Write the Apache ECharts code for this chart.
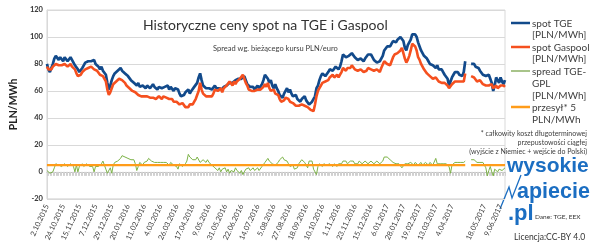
<!DOCTYPE html>
<html><head><meta charset="utf-8">
<script src="https://cdn.jsdelivr.net/npm/echarts@6/dist/echarts.min.js"></script>
<style>html,body{margin:0;padding:0;background:#fff}#c{width:597px;height:244px}</style>
</head><body><div id="c"></div>
<script>
// categories: every 2nd day from 2.10.2015 to 15.06.2017
const categories = [];
(function(){
  const d0 = Date.UTC(2015, 9, 2);
  for (let k = 0; k < 312; k++) {
    const d = new Date(d0 + k * 2 * 86400000);
    categories.push(d.getUTCDate() + '.' + String(d.getUTCMonth() + 1).padStart(2, '0') + '.' + d.getUTCFullYear());
  }
})();

const tickLabels = ['2.10.2015','24.10.2015','15.11.2015','7.12.2015','29.12.2015','20.01.2016','11.02.2016','4.03.2016','26.03.2016','17.04.2016','9.05.2016','31.05.2016','22.06.2016','14.07.2016','5.08.2016','27.08.2016','18.09.2016','10.10.2016','1.11.2016','23.11.2016','15.12.2016','6.01.2017','28.01.2017','19.02.2017','13.03.2017','4.04.2017','18.05.2017','9.06.2017'];

const spotTGE = [
80,76,74,77,80,84,86,85,83,85,
84,82,85,84,82,83,85,83,81,79,
78,76,74,75,77,79,81,80,82,83,
82,81,83,80,79,78,76,78,75,74,
72,66,61,64,68,71,73,74,75,76,
77,75,76,73,72,71,70,68,67,66,
65,64,66,63,62,64,63,62,64,63,
62,63,65,63,62,61,63,64,62,62,
63,62,64,61,63,62,60,62,63,61,
58,56,55,57,59,60,61,58,60,61,
63,64,66,70,73,68,64,63,62,63,
62,63,61,62,64,62,61,62,62,61,
63,64,64,65,66,67,66,67,68,68,
69,68,69,70,71,68,65,64,63,62,
63,61,62,64,62,63,65,68,72,71,
69,66,68,64,62,65,62,60,57,56,
55,58,60,62,59,61,58,56,55,57,
54,53,52,54,55,56,53,52,50,51,
52,51,56,62,64,68,71,73,72,71,
72,74,76,77,75,76,78,77,76,78,
82,87,86,85,84,86,85,88,87,85,
84,83,82,84,83,82,84,85,87,88,
87,85,83,82,81,80,82,83,86,90,
91,93,94,93,95,97,98,96,98,99,
100,101,97,92,90,94,95,98,102,103,
102,100,96,93,90,88,86,85,84,82,
80,81,79,78,77,79,76,75,76,74,
72,71,69,64,67,70,72,74,73,74,
72,73,71,74,82,null,null,null,80,79,
80,78,79,77,75,74,72,73,71,70,
72,69,66,60,64,70,68,66,70,67,
65,68];

const spotGaspool = [
78,76,75,76,78,79,80,80,79,80,
79,78,80,79,78,79,80,78,77,76,
73,71,70,72,74,75,76,75,77,77,
78,77,76,75,75,74,72,73,71,70,
67,61,57,59,62,65,66,67,68,69,
69,68,67,66,64,63,62,61,60,59,
59,58,57,58,56,57,56,55,56,55,
55,54,55,56,54,55,56,55,54,56,
56,55,56,54,53,54,52,53,52,51,
50,49,51,50,48,49,48,50,49,50,
52,54,55,60,66,61,58,57,56,57,
56,57,56,58,61,60,60,59,62,59,
62,61,64,63,67,66,64,67,65,67,
67,69,68,72,71,66,64,61,62,60,
60,60,60,61,61,61,61,63,65,63,
66,62,60,59,61,58,59,57,54,52,
51,53,55,56,54,52,53,51,50,49,
50,49,48,50,51,49,50,48,47,46,
47,45,50,56,60,62,64,66,65,67,
66,68,70,71,72,70,71,72,70,72,
74,77,76,75,77,78,77,79,78,76,
76,75,74,76,75,74,73,75,77,78,
76,77,75,74,76,75,74,77,78,82,
82,80,81,79,82,85,87,86,88,89,
90,92,88,84,81,83,86,90,95,96,
93,90,85,83,80,78,76,75,73,72,
71,70,69,68,70,69,67,68,66,67,
66,65,64,62,63,65,66,67,68,67,
68,67,66,67,73,null,null,null,71,70,
70,69,67,66,68,67,65,66,64,65,
64,63,65,62,63,64,62,63,64,63,
64,63];

const spreadTGEGPL = [
1,0,-1,-2,0,3,6,7,5,6,
4,5,6,5,4,5,6,5,4,0,
5,0,4,5,6,4,5,6,5,4,
5,4,0,4,5,4,5,6,8,7,
2,-1,0,3,-1,5,7,6,8,9,
10,12,13,11,12,10,11,9,10,9,
6,1,4,7,6,5,7,6,8,10,
9,8,9,7,8,7,8,7,8,7,
6,7,6,5,7,6,5,6,4,2,
6,5,4,5,6,8,13,11,10,9,
10,9,11,10,7,8,9,8,7,9,
7,6,5,4,3,2,1,3,0,2,
1,3,0,2,-1,1,2,0,3,1,
2,-1,1,-2,0,2,1,3,1,2,
3,1,2,3,1,2,4,5,7,8,
10,8,7,6,7,5,6,7,9,10,
11,9,10,8,6,4,3,5,2,1,
3,6,7,9,8,7,5,3,8,7,
8,2,0,-2,4,6,5,4,6,5,
5,4,6,5,4,6,5,4,6,7,
6,8,7,8,6,7,8,7,8,6,
7,6,8,7,6,7,8,7,6,7,
8,7,6,7,8,7,6,7,8,11,
12,11,12,9,8,7,8,6,7,6,
5,3,4,6,7,6,5,7,6,5,
7,6,5,6,7,5,6,7,6,5,
7,6,5,6,10,6,5,6,5,6,
5,6,5,4,-1,5,6,7,6,7,
6,7,6,7,8,null,null,null,9,8,
9,8,7,8,7,8,7,5,3,-3,
1,4,0,-3,2,3,0,2,2,1,
2,3];

const przesyl = [['2.10.2015',5],['22.04.2017',5],['24.04.2017',null],['30.04.2017',5],['15.06.2017',5]];

const yTicks = {min: -20, max: 120, interval: 20};

const FONT = 'Lato';
const C_TGE = '#124a8b', C_GPL = '#f5501f', C_SPR = '#7cb247', C_PRZ = '#ff9c1a';
const TXT = '#404040';

const chart = echarts.init(document.getElementById('c'), null, {renderer: 'canvas'});
chart.setOption({
  animation: false,
  backgroundColor: '#fff',
  title: [
    {text: 'Historyczne ceny spot na TGE i Gaspool', left: 143, top: 18, padding: 0,
     textStyle: {fontFamily: FONT, fontSize: 14, fontWeight: 'normal', color: '#333'}},
    {text: 'Spread wg. bieżącego kursu PLN/euro', left: 213, top: 45, padding: 0,
     textStyle: {fontFamily: FONT, fontSize: 7.5, fontWeight: 'normal', color: '#404040'}}
  ],
  grid: {left: 33, right: 92, top: 10, bottom: 15, show: true, borderColor: '#d9d9d9', borderWidth: 1},
  xAxis: {
    type: 'category', data: categories, boundaryGap: false,
    axisLine: {onZero: true, lineStyle: {color: '#bfbfbf', width: 1}},
    axisTick: {show: true, interval: 0, length: 4, lineStyle: {color: '#d0d0d0'}},
    axisLabel: {interval: (i, v) => tickLabels.includes(v), rotate: 65, fontSize: 7.5,
                fontFamily: FONT, color: TXT, margin: 6},
    splitLine: {show: false}
  },
  yAxis: {
    type: 'value', min: yTicks.min, max: yTicks.max, interval: yTicks.interval,
    name: 'PLN/MWh', nameLocation: 'middle', nameGap: 23,
    nameTextStyle: {fontFamily: FONT, fontSize: 10.5, fontWeight: 'bold', color: '#222'},
    axisLine: {show: true, lineStyle: {color: '#d9d9d9'}},
    axisTick: {show: false},
    axisLabel: {fontFamily: FONT, fontSize: 7.5, fontWeight: 'bold', color: '#333', margin: 4},
    splitLine: {lineStyle: {color: '#d9d9d9', width: 1}}
  },
  series: [
    {name: 'spot TGE [PLN/MWh]', type: 'line', data: spotTGE, showSymbol: false, symbol: 'none',
     connectNulls: false, lineStyle: {color: C_TGE, width: 2.7}, itemStyle: {color: C_TGE}},
    {name: 'spot Gaspool [PLN/MWh]', type: 'line', data: spotGaspool, showSymbol: false, symbol: 'none',
     connectNulls: false, lineStyle: {color: C_GPL, width: 2.6}, itemStyle: {color: C_GPL}},
    {name: 'spread TGE-GPL [PLN/MWh]', type: 'line', data: spreadTGEGPL, showSymbol: false, symbol: 'none',
     connectNulls: false, lineStyle: {color: C_SPR, width: 1}, itemStyle: {color: C_SPR}},
    {name: 'przesył* 5 PLN/MWh', type: 'line', data: przesyl, showSymbol: false, symbol: 'none',
     connectNulls: false, lineStyle: {color: C_PRZ, width: 2.2}, itemStyle: {color: C_PRZ}}
  ],
  graphic: [
    // legend
    {type: 'line', shape: {x1: 511, y1: 23, x2: 530, y2: 23}, style: {stroke: C_TGE, lineWidth: 2.5}},
    {type: 'text', x: 532, y: 24, style: {text: 'spot TGE', font: '10px Lato', fill: TXT, textVerticalAlign: 'middle'}},
    {type: 'text', x: 532, y: 35, style: {text: '[PLN/MWh]', font: '10px Lato', fill: TXT, textVerticalAlign: 'middle'}},
    {type: 'line', shape: {x1: 511, y1: 47, x2: 530, y2: 47}, style: {stroke: C_GPL, lineWidth: 2.5}},
    {type: 'text', x: 532, y: 48, style: {text: 'spot Gaspool', font: '10px Lato', fill: TXT, textVerticalAlign: 'middle'}},
    {type: 'text', x: 532, y: 59, style: {text: '[PLN/MWh]', font: '10px Lato', fill: TXT, textVerticalAlign: 'middle'}},
    {type: 'line', shape: {x1: 511, y1: 71, x2: 530, y2: 71}, style: {stroke: '#a8c48a', lineWidth: 2}},
    {type: 'text', x: 532, y: 72, style: {text: 'spread TGE-', font: '10px Lato', fill: TXT, textVerticalAlign: 'middle'}},
    {type: 'text', x: 532, y: 84, style: {text: 'GPL', font: '10px Lato', fill: TXT, textVerticalAlign: 'middle'}},
    {type: 'text', x: 532, y: 96, style: {text: '[PLN/MWh]', font: '10px Lato', fill: TXT, textVerticalAlign: 'middle'}},
    {type: 'line', shape: {x1: 511, y1: 107, x2: 530, y2: 107}, style: {stroke: C_PRZ, lineWidth: 2.5}},
    {type: 'text', x: 532, y: 108, style: {text: 'przesył* 5', font: '10px Lato', fill: TXT, textVerticalAlign: 'middle'}},
    {type: 'text', x: 532, y: 120, style: {text: 'PLN/MWh', font: '10px Lato', fill: TXT, textVerticalAlign: 'middle'}},
    // note
    {type: 'text', x: 587, y: 134, style: {text: '* całkowity koszt długoterminowej', font: '7px Lato', fill: TXT, textAlign: 'right', textVerticalAlign: 'middle'}},
    {type: 'text', x: 587, y: 143, style: {text: 'przepustowości ciągłej', font: '7px Lato', fill: TXT, textAlign: 'right', textVerticalAlign: 'middle'}},
    {type: 'text', x: 587, y: 152, style: {text: '(wyjście z Niemiec + wejście do Polski)', font: '7px Lato', fill: TXT, textAlign: 'right', textVerticalAlign: 'middle'}},
    // logo
    {type: 'text', x: 507, y: 166, style: {text: 'wysokie', font: 'bold 21px "Liberation Sans"', fill: '#1b6ec2', textVerticalAlign: 'middle'}},
    {type: 'polyline', shape: {points: [[500, 209], [509, 187], [512, 198], [521, 175]]}, style: {stroke: '#1b6ec2', lineWidth: 1.3, fill: null}},
    {type: 'text', x: 517, y: 192, style: {text: 'apiecie', font: 'bold 21.5px "Liberation Sans"', fill: '#1b6ec2', textVerticalAlign: 'middle'}},
    {type: 'text', x: 508, y: 214, style: {text: '.pl', font: 'bold 22px "Liberation Sans"', fill: '#1b6ec2', textVerticalAlign: 'middle'}},
    {type: 'text', x: 535, y: 217, style: {text: 'Dane: TGE, EEX', font: '6.5px Lato', fill: '#333', textVerticalAlign: 'middle'}},
    {type: 'text', x: 514, y: 237, style: {text: 'Licencja:CC-BY 4.0', font: '8.5px Lato', fill: '#333', textVerticalAlign: 'middle'}}
  ]
});
</script></body></html>
